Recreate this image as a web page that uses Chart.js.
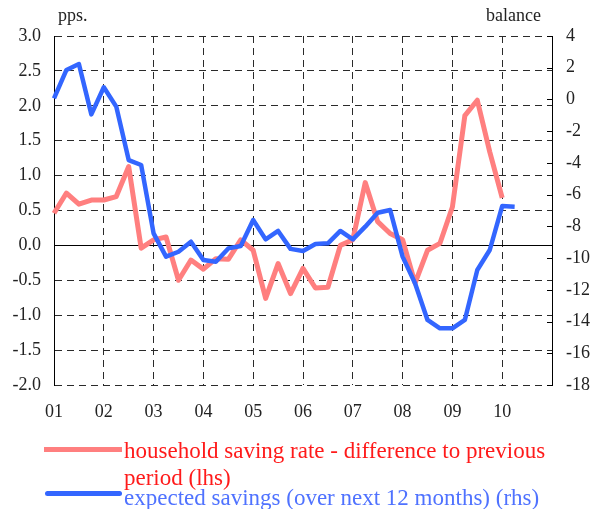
<!DOCTYPE html>
<html>
<head>
<meta charset="utf-8">
<script src="https://cdn.jsdelivr.net/npm/chart.js@4.4.1/dist/chart.umd.min.js"></script>
<style>
  html, body { margin: 0; padding: 0; background: #fff; }
  #wrap {
    position: relative; width: 592px; height: 509px;
    font-family: "Liberation Serif", "DejaVu Serif", serif;
  }
  #wrap canvas { position: absolute; left: 0; top: 0; }
  .unit { position: absolute; top: 4px; font-size: 18px; color: #222; line-height: 22px; }
  .swatch { position: absolute; height: 5px; }
  .legtext { position: absolute; left: 124px; font-size: 23px; line-height: 27px; white-space: nowrap; }
</style>
</head>
<body>
<div id="wrap">
  <canvas id="savingsChart" width="592" height="509"></canvas>
  <div class="unit" style="left:58px;">pps.</div>
  <div class="unit" style="left:486px;">balance</div>
  <div class="swatch" style="left:44px;top:447px;width:78px;background:#ff7f7f;"></div>
  <div class="legtext" style="top:437px;color:#ff1a1a;">household saving rate - difference to previous<br>period (lhs)</div>
  <div class="swatch" style="left:45px;top:491px;width:77px;background:#3366ff;border-radius:3px;"></div>
  <div class="legtext" style="top:484px;color:#4f72ff;">expected savings (over next 12 months) (rhs)</div>
</div>

<script>
/* ------------------------------------------------------------------
   DATA — quarterly, 2001 Q1 onwards
   ------------------------------------------------------------------ */
var YEARS = ['01', '02', '03', '04', '05', '06', '07', '08', '09', '10', '11'];

// household saving rate, difference to previous period (pps, lhs)
var SAVING_RATE_DIFF = [
  0.46, 0.75, 0.59, 0.65, 0.65, 0.70, 1.13, -0.04,
  0.08, 0.12, -0.50, -0.21, -0.34, -0.19, -0.20, 0.08,
  -0.07, -0.76, -0.26, -0.69, -0.33, -0.61, -0.60, 0.00,
  0.08, 0.90, 0.34, 0.17, 0.08, -0.54, -0.07, 0.03,
  0.55, 1.86, 2.08, 1.34, 0.68
];

// expected savings over next 12 months (balance, rhs)
var EXPECTED_SAVINGS = [
  0.07, 1.86, 2.23, -0.94, 0.77, -0.45, -3.82, -4.13,
  -8.44, -9.91, -9.60, -8.97, -10.12, -10.23, -9.39, -9.24,
  -7.60, -8.82, -8.29, -9.42, -9.55, -9.11, -9.07, -8.29,
  -8.82, -8.02, -7.14, -6.97, -9.91, -11.59, -13.90, -14.43,
  -14.43, -13.90, -10.75, -9.49, -6.72, -6.76
];

var COLORS = {
  pink: '#ff7f7f',
  blue: '#3366ff',
  grid: '#2a2a2a',
  text: '#222222',
};

// one category per quarter, 01 Q1 .. 11 Q1 (the last one closes the axis)
var QUARTERS = [];
YEARS.forEach(function (y, i) {
  for (var q = 1; q <= 4; q++) {
    if (i === YEARS.length - 1 && q > 1) break;
    QUARTERS.push(y + 'Q' + q);
  }
});

var DASH = [7, 5];
var FONT = { family: '"Liberation Serif", "DejaVu Serif", serif', size: 18 };

// small inward tick marks on the right-hand axis
var innerTicks = {
  id: 'innerTicks',
  afterDraw: function (chart) {
    var s = chart.scales.y2;
    var ctx = chart.ctx;
    ctx.save();
    ctx.strokeStyle = '#000';
    ctx.lineWidth = 1;
    s.ticks.forEach(function (t) {
      var y = Math.round(s.getPixelForValue(t.value)) + 0.5;
      ctx.beginPath();
      ctx.moveTo(s.left - 5, y);
      ctx.lineTo(s.left, y);
      ctx.stroke();
    });
    ctx.restore();
  }
};

new Chart(document.getElementById('savingsChart'), {
  type: 'line',
  data: {
    labels: QUARTERS,
    datasets: [{
      label: 'expected savings (over next 12 months) (rhs)',
      data: EXPECTED_SAVINGS,
      yAxisID: 'y2',
      borderColor: COLORS.blue,
      borderWidth: 4.5,
      borderJoinStyle: 'round',
      pointRadius: 0,
      tension: 0,
      order: 0,
    }, {
      label: 'household saving rate - difference to previous period (lhs)',
      data: SAVING_RATE_DIFF,
      yAxisID: 'y',
      borderColor: COLORS.pink,
      borderWidth: 5,
      borderJoinStyle: 'round',
      pointRadius: 0,
      tension: 0,
      order: 1,
    }],
  },
  options: {
    responsive: false,
    animation: false,
    layout: { padding: { top: 36, left: 0, right: 0, bottom: 0 } },
    plugins: { legend: { display: false }, tooltip: { enabled: false } },
    scales: {
      x: {
        type: 'category',
        afterFit: function (s) { s.height = 124; },
        grid: {
          drawTicks: false,
          color: function (ctx) { return ctx.index % 4 === 0 ? COLORS.grid : 'transparent'; },
        },
        border: { display: false, dash: DASH },
        ticks: {
          autoSkip: false,
          maxRotation: 0,
          padding: 16,
          color: COLORS.text,
          font: FONT,
          callback: function (v, i) {
            return (i % 4 === 0 && i < QUARTERS.length - 1) ? YEARS[i / 4] : '';
          },
        },
      },
      y: {
        position: 'left',
        min: -2,
        max: 3,
        afterFit: function (s) { s.width = 54; },
        grid: { drawTicks: false, color: function (ctx) { return ctx.tick && ctx.tick.value === 0 ? '#000' : COLORS.grid; } },
        border: {
          display: true, color: '#000', width: 1,
          dash: function (ctx) { return ctx.tick && ctx.tick.value === 0 ? [] : DASH; },
        },
        ticks: {
          stepSize: 0.5,
          padding: 13,
          color: COLORS.text,
          font: FONT,
          callback: function (v) { return v.toFixed(1); },
        },
      },
      y2: {
        position: 'right',
        min: -18,
        max: 4,
        afterFit: function (s) { s.width = 40; },
        grid: { drawOnChartArea: false, drawTicks: false },
        border: { display: true, color: '#000', width: 1 },
        ticks: {
          stepSize: 2,
          padding: 14,
          color: COLORS.text,
          font: FONT,
        },
      },
    },
  },
  plugins: [innerTicks],
});
</script>
</body>
</html>
